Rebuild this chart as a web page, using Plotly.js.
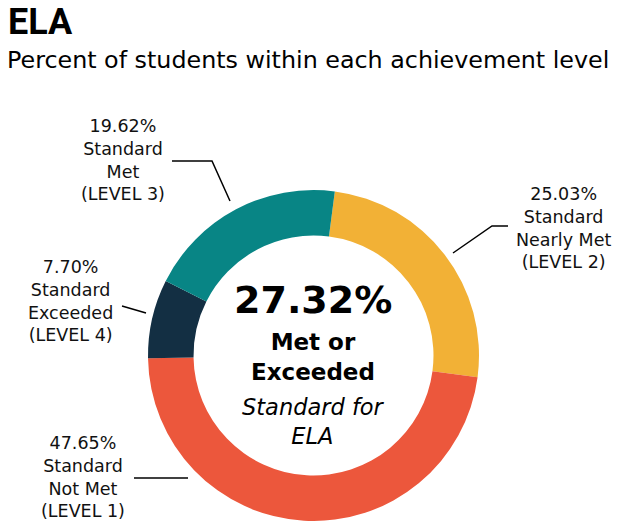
<!DOCTYPE html>
<html>
<head>
<meta charset="utf-8">
<script src="https://cdn.plot.ly/plotly-3.0.1.min.js"></script>
<style>
html,body{margin:0;padding:0;background:#fff;}
#chart{width:617px;height:521px;}
</style>
</head>
<body>
<div id="chart"></div>
<script>
// ---- data ----
const levels = ["LEVEL 2", "LEVEL 1", "LEVEL 4", "LEVEL 3"];
const descriptions = ["Standard<br>Nearly Met", "Standard<br>Not Met", "Standard<br>Exceeded", "Standard<br>Met"];
const percents = [25.03, 47.65, 7.70, 19.62];
const colors = ["#F2B136", "#EC573C", "#132F43", "#088585"];
const subject = "ELA";
const subtitle = "Percent of students within each achievement level";

const W = 617, H = 521;
const px = x => x / W;
const py = y => 1 - y / H;

// met or exceeded = level 3 + level 4
const metExceeded = (percents[levels.indexOf("LEVEL 3")] + percents[levels.indexOf("LEVEL 4")]).toFixed(2);

const FONT = "DejaVu Sans, sans-serif";
const labelFont = {family: FONT, size: 17.5, color: "#111"};

// label anchor positions (pixels) per level
const labelPos = {
  "LEVEL 3": [123, 160],
  "LEVEL 2": [563, 228],
  "LEVEL 4": [70, 301],
  "LEVEL 1": [83, 477]
};

const annotations = levels.map((lv, i) => ({
  xref: "paper", yref: "paper",
  x: px(labelPos[lv][0]), y: py(labelPos[lv][1]),
  xanchor: "center", yanchor: "middle",
  text: percents[i].toFixed(2) + "%<br>" + descriptions[i] + "<br>(" + lv + ")",
  showarrow: false, align: "center", font: labelFont
}));

annotations.push(
  {xref:"paper", yref:"paper", x:px(6), y:py(22), xanchor:"left", yanchor:"middle",
   text:"<b>" + subject + "</b>", showarrow:false, font:{family:"Liberation Sans Narrow, Roboto, sans-serif", size:36, color:"#000"}},
  {xref:"paper", yref:"paper", x:px(5), y:py(60), xanchor:"left", yanchor:"middle",
   text:subtitle, showarrow:false, font:{family:FONT, size:23.8, color:"#000"}},
  {xref:"paper", yref:"paper", x:px(313), y:py(300), xanchor:"center", yanchor:"middle",
   text:"<b>" + metExceeded + "%</b>", showarrow:false, font:{family:FONT, size:38, color:"#000"}},
  {xref:"paper", yref:"paper", x:px(313), y:py(357), xanchor:"center", yanchor:"middle",
   text:"<b>Met or<br>Exceeded</b>", showarrow:false, font:{family:FONT, size:23, color:"#000"}},
  {xref:"paper", yref:"paper", x:px(313), y:py(421), xanchor:"center", yanchor:"middle",
   text:"<i>Standard for<br>" + subject + "</i>", showarrow:false, font:{family:FONT, size:22.5, color:"#000"}}
);

const lineStyle = {color: "#000", width: 1.5};
const shapes = [
  {type:"path", xref:"paper", yref:"paper", line:lineStyle,
   path:`M ${px(172)} ${py(161)} L ${px(212)} ${py(161)} L ${px(230)} ${py(201)}`},
  {type:"path", xref:"paper", yref:"paper", line:lineStyle,
   path:`M ${px(453)} ${py(253)} L ${px(492)} ${py(226)} L ${px(508)} ${py(226)}`},
  {type:"line", xref:"paper", yref:"paper", line:lineStyle,
   x0:px(122), y0:py(306), x1:px(146), y1:py(313)},
  {type:"line", xref:"paper", yref:"paper", line:lineStyle,
   x0:px(134), y0:py(478), x1:px(188), y1:py(478)}
];

const trace = {
  type: "pie",
  labels: levels,
  values: percents,
  marker: {colors: colors, line: {width: 0}},
  hole: 0.725,
  sort: false,
  direction: "clockwise",
  rotation: 7.4,
  textinfo: "none",
  hoverinfo: "label+value",
  showlegend: false,
  domain: {x: [px(148), px(479)], y: [py(521), py(190)]}
};

const layout = {
  width: W, height: H,
  margin: {l:0, r:0, t:0, b:0},
  paper_bgcolor: "#fff",
  plot_bgcolor: "#fff",
  annotations: annotations,
  shapes: shapes,
  showlegend: false
};

Plotly.newPlot("chart", [trace], layout, {displayModeBar: false, staticPlot: true});
</script>
</body>
</html>
